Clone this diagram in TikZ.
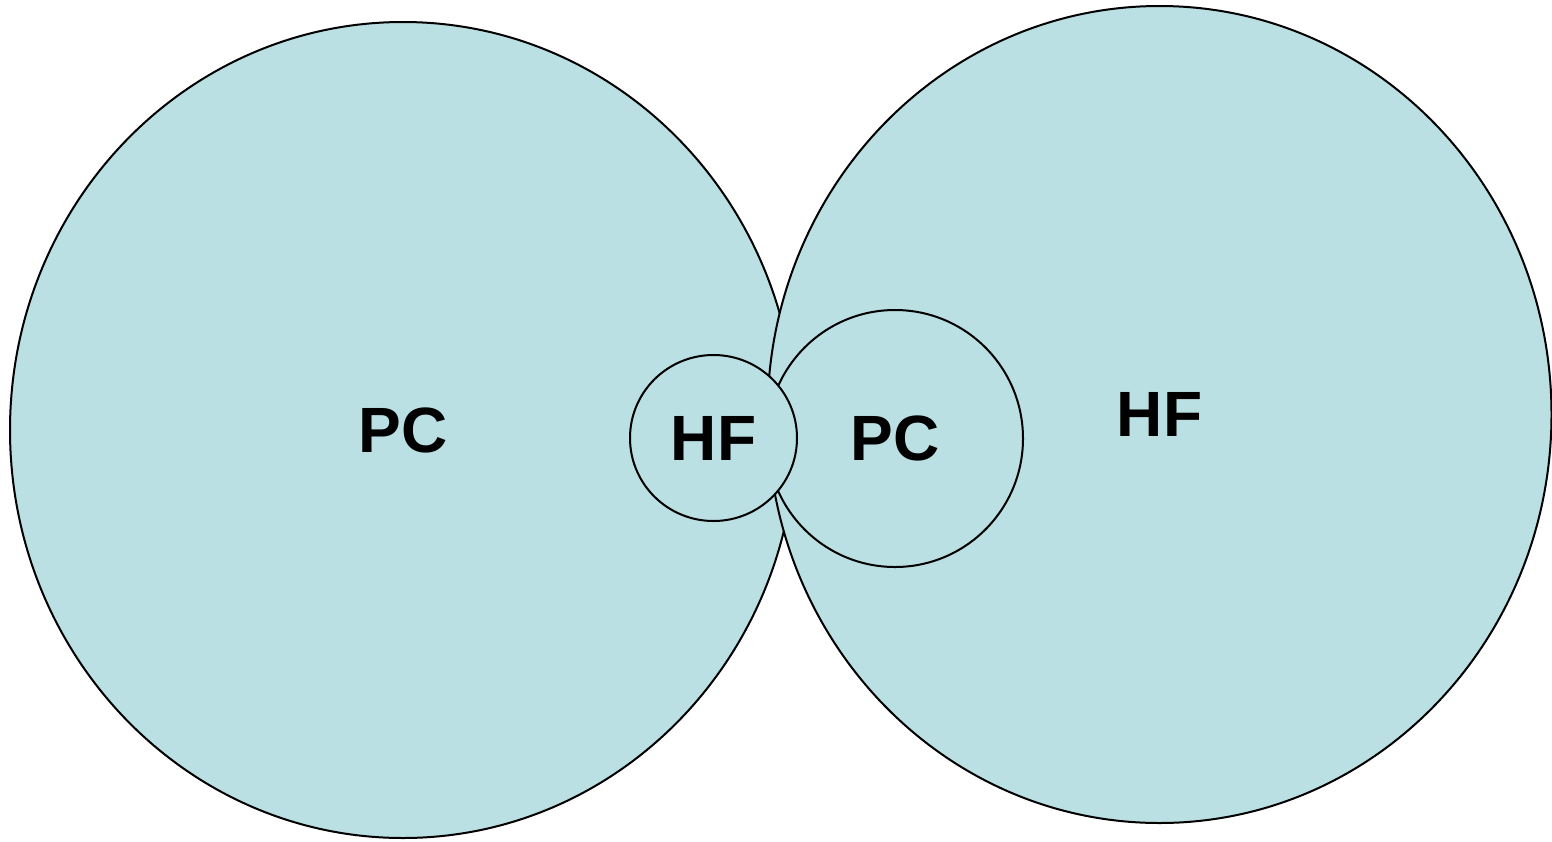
\documentclass[tikz,border=0pt]{standalone}
\usepackage{fontspec}
\setmainfont{Liberation Sans}
\usetikzlibrary{shapes.geometric}

\definecolor{setfill}{RGB}{186,224,227}
\tikzset{
  setnode/.style={ellipse, draw, line width=1pt, fill=setfill, inner sep=0pt,
    font=\fontsize{32}{38}\selectfont\bfseries}
}

\begin{document}
\begin{tikzpicture}[x=0.5pt,y=0.5pt,yscale=-1,xscale=1]
	\useasboundingbox (0,0) rectangle (1552,841);

	% Text Node
	\node [setnode, minimum width=393pt, minimum height=408pt] (pcL) at (403,430) {PC};
	% Text Node
	\node [setnode, minimum width=392pt, minimum height=408.5pt] (hfR) at (1159.5,414.5) {HF};
	% Text Node
	\node [setnode, minimum width=128pt, minimum height=128.5pt] (pcS) at (895,438.5) {PC};
	% Text Node
	\node [setnode, minimum width=83.5pt, minimum height=83pt] (hfS) at (713.5,438) {HF};

\end{tikzpicture}
\end{document}
